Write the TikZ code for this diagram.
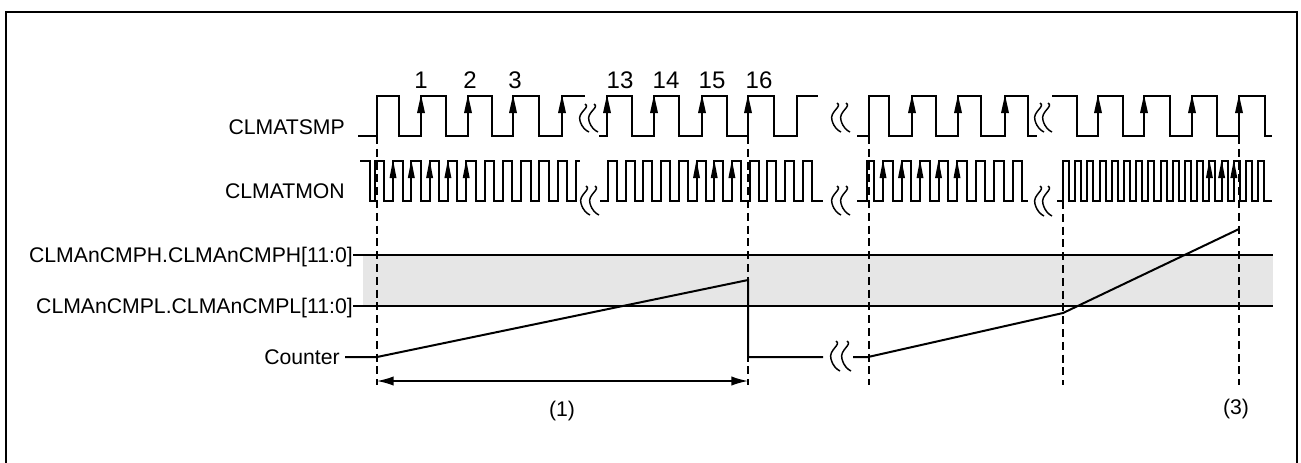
\documentclass[tikz,border=0pt]{standalone}
\usepackage{fontspec}
\setmainfont{Liberation Sans}
\usetikzlibrary{arrows.meta}
\definecolor{bandgray}{RGB}{230,230,230}
\newcommand\brkmark[3]{%
  \draw[brk] (#1,#2) .. controls ({#1+6},{#2+0.12*(#3-#2)}) and ({#1-8},{#2+0.3*(#3-#2)}) .. ({#1-5},{#2+0.6*(#3-#2)})
     .. controls ({#1-3},{#2+0.85*(#3-#2)}) and ({#1+1},{#2+0.95*(#3-#2)}) .. ({#1+4},#3);}
\begin{document}
\begin{tikzpicture}[x=0.75pt,y=-0.75pt,
  wave/.style={line width=1.5pt, line join=miter},
  thinl/.style={line width=1.1pt},
  vdash/.style={line width=1.1pt, dash pattern=on 6pt off 3.6pt},
  lbl/.style={inner sep=0pt, font=\fontsize{15.9}{18}\selectfont},
  num/.style={inner sep=0pt, font=\fontsize{18}{20}\selectfont, anchor=base},
  brk/.style={line width=1.1pt}]
\useasboundingbox (0,0) rectangle (1301,462);
\clip (0,0) rectangle (1301,462);
\draw[line width=1.6pt] (6,480) -- (6,12) -- (1297,12) -- (1297,480);

% band
\fill[bandgray] (363,255) rectangle (1273,306);

% labels
\node[lbl, anchor=base east] (lSMP) at (345,134) {CLMATSMP};
\node[lbl, anchor=base east] (lMON) at (345,198) {CLMATMON};
\node[lbl, anchor=base east] (lH) at (353,262.5) {CLMAnCMPH.CLMAnCMPH[11:0]};
\node[lbl, anchor=base east] (lL) at (353,313.5) {CLMAnCMPL.CLMAnCMPL[11:0]};
\node[lbl, anchor=base east] (lC) at (340,364.5) {Counter};
\node[lbl, anchor=base] (p1) at (562,416) {(1)};
\node[lbl, anchor=base] (p3) at (1236,414) {(3)};

\node[num] (n1) at (421,88) {1};
\node[num] (n2) at (470,88) {2};
\node[num] (n3) at (515,88) {3};
\node[num] (n13) at (620,88) {13};
\node[num] (n14) at (666,88) {14};
\node[num] (n15) at (712,88) {15};
\node[num] (n16) at (759,88) {16};

% threshold lines
\draw[thinl] (353,255) -- (1273,255);
\draw[thinl] (353,306) -- (1273,306);

% dashed markers
\draw[vdash] (377,136) -- (377,385);
\draw[vdash] (748,136) -- (748,385);
\draw[vdash] (869,136) -- (869,385);
\draw[vdash] (1063,201) -- (1063,385);
\draw[vdash] (1239,136) -- (1239,385);

% CLMATSMP
\draw[wave] (358,136) -- (377,136) -- (377,96) -- (399,96) -- (399,136) -- (421,136) -- (421,96) -- (446,96) -- (446,136) -- (468,136) -- (468,96) -- (492,96) -- (492,136) -- (513,136) -- (513,96) -- (539,96) -- (539,136) -- (562,136) -- (562,96) -- (585,96);
\draw[wave] (599,136) -- (607,136) -- (607,96) -- (632,96) -- (632,136) -- (654,136) -- (654,96) -- (679,96) -- (679,136) -- (702,136) -- (702,96) -- (727,96) -- (727,136) -- (748,136) -- (748,96) -- (774,96) -- (774,136) -- (797,136) -- (797,96) -- (818,96);
\draw[wave] (857,136) -- (869,136) -- (869,96) -- (889,96) -- (889,136) -- (912,136) -- (912,96) -- (936,96) -- (936,136) -- (958,136) -- (958,96) -- (981,96) -- (981,136) -- (1005,136) -- (1005,96) -- (1028,96) -- (1028,136) -- (1037,136);
\draw[wave] (1052,96) -- (1077,96) -- (1077,136) -- (1098,136) -- (1098,96) -- (1123,96) -- (1123,136) -- (1144,136) -- (1144,96) -- (1170,96) -- (1170,136) -- (1192,136) -- (1192,96) -- (1217,96) -- (1217,136) -- (1239,136) -- (1239,96) -- (1265,96) -- (1265,136) -- (1272,136);
\foreach \x in {421,468,513,562,607,654,702,748,912,958,1005,1098,1144,1192,1239}
  {\fill ({\x-4},113) -- (\x,95) -- ({\x+4},113) -- cycle;}

% CLMATMON
\draw[wave] (360,161) -- (370,161) -- (370,201) -- (375,201) -- (375,161) -- (384,161) -- (384,201)
  \foreach \k in {0,...,9} { -- ({393+18.3*\k},201) -- ({393+18.3*\k},161) -- ({402.5+18.3*\k},161) -- ({402.5+18.3*\k},201) }
  -- (576,201) -- (576,161) -- (580,161);
\draw[wave] (600,201)
  \foreach \k in {0,...,11} { -- ({608+17.7*\k},201) -- ({608+17.7*\k},161) -- ({617+17.7*\k},161) -- ({617+17.7*\k},201) }
  -- (823,201);
\draw[wave] (857,201) -- (867,201) -- (867,161) -- (874,161) -- (874,201)
  \foreach \k in {0,...,7} { -- ({883+18.5*\k},201) -- ({883+18.5*\k},161) -- ({892.5+18.5*\k},161) -- ({892.5+18.5*\k},201) }
  -- (1028,201);
\draw[wave] (1057,201)
  \foreach \k in {0,...,16} { -- ({1063+12.2*\k},201) -- ({1063+12.2*\k},161) -- ({1069+12.2*\k},161) -- ({1069+12.2*\k},201) }
  -- (1272,201);
\foreach \x in {393,411.3,429.6,447.9,466.2,696.5,714.2,731.9,883,901.5,920,938.5,957,1209.4,1221.6,1233.8}
  {\fill ({\x-3.5},178) -- (\x,160) -- ({\x+3.5},178) -- cycle;}

% breaks
\brkmark{585}{104}{132}\brkmark{594}{104}{132}
\brkmark{837}{103}{132}\brkmark{846}{103}{132}
\brkmark{1040}{103}{132}\brkmark{1048}{103}{132}
\brkmark{586}{186}{215}\brkmark{595}{186}{215}
\brkmark{837}{186}{215}\brkmark{846}{186}{215}
\brkmark{1040}{186}{216}\brkmark{1048}{186}{216}
\brkmark{836}{341}{371}\brkmark{847}{341}{371}

% counter
\draw[wave] (345,357) -- (377,357) -- (748,280) -- (748,357) -- (823,357);
\draw[wave] (853,357) -- (868,357) -- (1063,313) -- (1239,229);

% interval arrow
\draw[thinl, {Latex[length=12.5pt,width=7pt]}-{Latex[length=12.5pt,width=7pt]}] (377,381) -- (748,381);
\end{tikzpicture}
\end{document}
